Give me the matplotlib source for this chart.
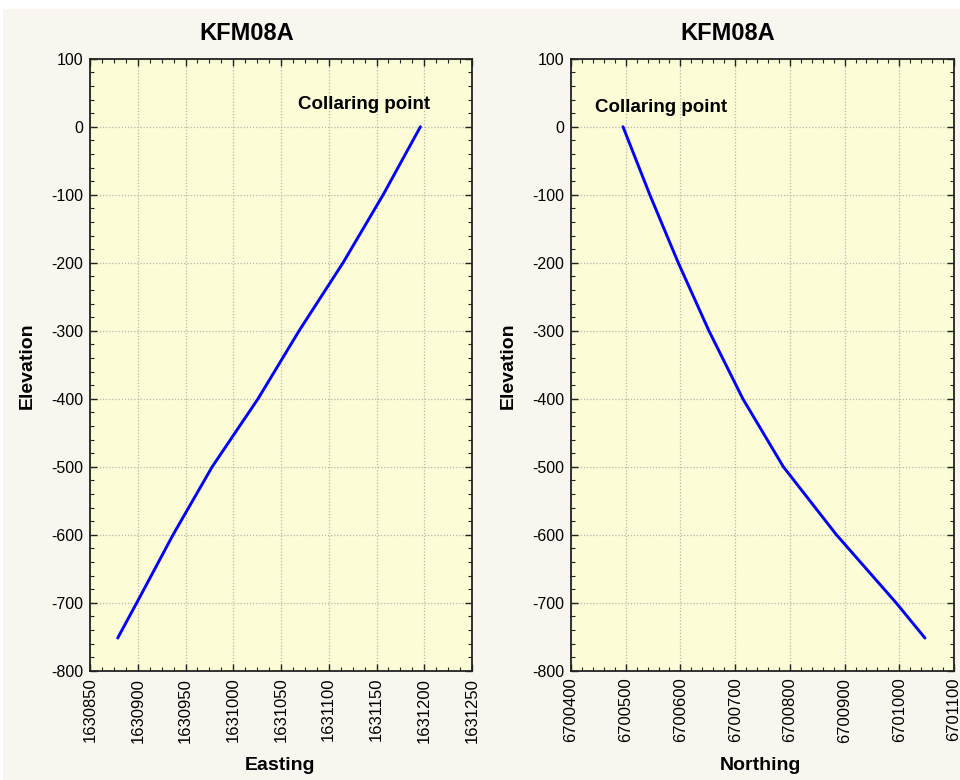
import matplotlib
matplotlib.use("Agg")
import matplotlib.pyplot as plt
from matplotlib.ticker import MultipleLocator, FixedLocator
from matplotlib.patches import Rectangle

# ---- data ----
title = "KFM08A"
annot = "Collaring point"

easting = [1631196, 1631157, 1631115, 1631069, 1631026, 1630978, 1630937, 1630899, 1630879]
elev_e = [0, -100, -200, -300, -400, -500, -600, -700, -752]

northing = [6700495, 6700544, 6700596, 6700652, 6700714, 6700788, 6700885, 6700994, 6701047]
elev_n = [0, -100, -200, -300, -400, -500, -600, -700, -752]

east_ticks = [1630850, 1630900, 1630950, 1631000, 1631050, 1631100, 1631150, 1631200, 1631250]
north_ticks = [6700400, 6700500, 6700600, 6700700, 6700800, 6700900, 6701000, 6701100]
elev_ticks = [100, 0, -100, -200, -300, -400, -500, -600, -700, -800]

FONT = ["Liberation Sans", "DejaVu Sans"]
plt.rcParams['font.family'] = FONT
plt.rcParams['axes.unicode_minus'] = False

W, H = 960, 780
fig = plt.figure(figsize=(W / 100, H / 100), dpi=100, facecolor="white")
fig.patches.append(Rectangle((3 / W, 0), 1, 1 - 9 / H, transform=fig.transFigure,
                             facecolor="#F8F6EF", edgecolor="none", zorder=-10))

def px(x0, y0, x1, y1):
    return [x0 / W, 1 - y1 / H, (x1 - x0) / W, (y1 - y0) / H]

axL = fig.add_axes(px(90, 58.7, 472, 670.7))
axR = fig.add_axes(px(571, 58.7, 954, 670.7))

def style(ax, xticks, xminor):
    ax.set_facecolor("#FCFCD6")
    ax.set_ylim(-800, 100)
    ax.set_xlim(xticks[0], xticks[-1])
    ax.xaxis.set_major_locator(FixedLocator(xticks))
    ax.yaxis.set_major_locator(FixedLocator(elev_ticks))
    ax.xaxis.set_minor_locator(MultipleLocator(xminor))
    ax.yaxis.set_minor_locator(MultipleLocator(20))
    ax.ticklabel_format(useOffset=False, style="plain")
    ax.tick_params(which="both", direction="in", top=True, right=True, color="#222222")
    ax.tick_params(which="major", length=5, width=1, labelsize=11.5, pad=5)
    ax.tick_params(axis="x", which="major", labelsize=12)
    ax.tick_params(which="minor", length=3, width=0.8)
    ax.tick_params(axis="x", labelrotation=90)
    ax.grid(True, which="major", color="#B8B8A8", linestyle=(0, (1, 1.5)), linewidth=0.9)
    ax.set_axisbelow(True)
    for s in ax.spines.values():
        s.set_linewidth(1.3)
        s.set_color("#222222")

style(axL, east_ticks, 12.5)
style(axR, north_ticks, 20)

axL.plot(easting, elev_e, color="#0000FF", lw=2.1, solid_capstyle="round",
         solid_joinstyle="round")
axR.plot(northing, elev_n, color="#0000FF", lw=2.1, solid_capstyle="round",
         solid_joinstyle="round")

axL.text(1631137, 32, annot, ha="center", va="center", fontsize=13.5, fontweight="bold")
axR.text(6700564, 28, annot, ha="center", va="center", fontsize=13.5, fontweight="bold")

fig.text(247 / W, 1 - 34 / H, title, ha="center", va="center", fontsize=17, fontweight="bold")
fig.text(728 / W, 1 - 34 / H, title, ha="center", va="center", fontsize=17, fontweight="bold")

fig.text(280 / W, 1 - 766 / H, "Easting", ha="center", va="center", fontsize=14, fontweight="bold")
fig.text(760 / W, 1 - 766 / H, "Northing", ha="center", va="center", fontsize=14, fontweight="bold")
fig.text(27 / W, 1 - 366 / H, "Elevation", ha="center", va="center", fontsize=14,
         fontweight="bold", rotation=90)
fig.text(508 / W, 1 - 366 / H, "Elevation", ha="center", va="center", fontsize=14,
         fontweight="bold", rotation=90)

fig.savefig("out.png", dpi=100, facecolor=fig.get_facecolor())
